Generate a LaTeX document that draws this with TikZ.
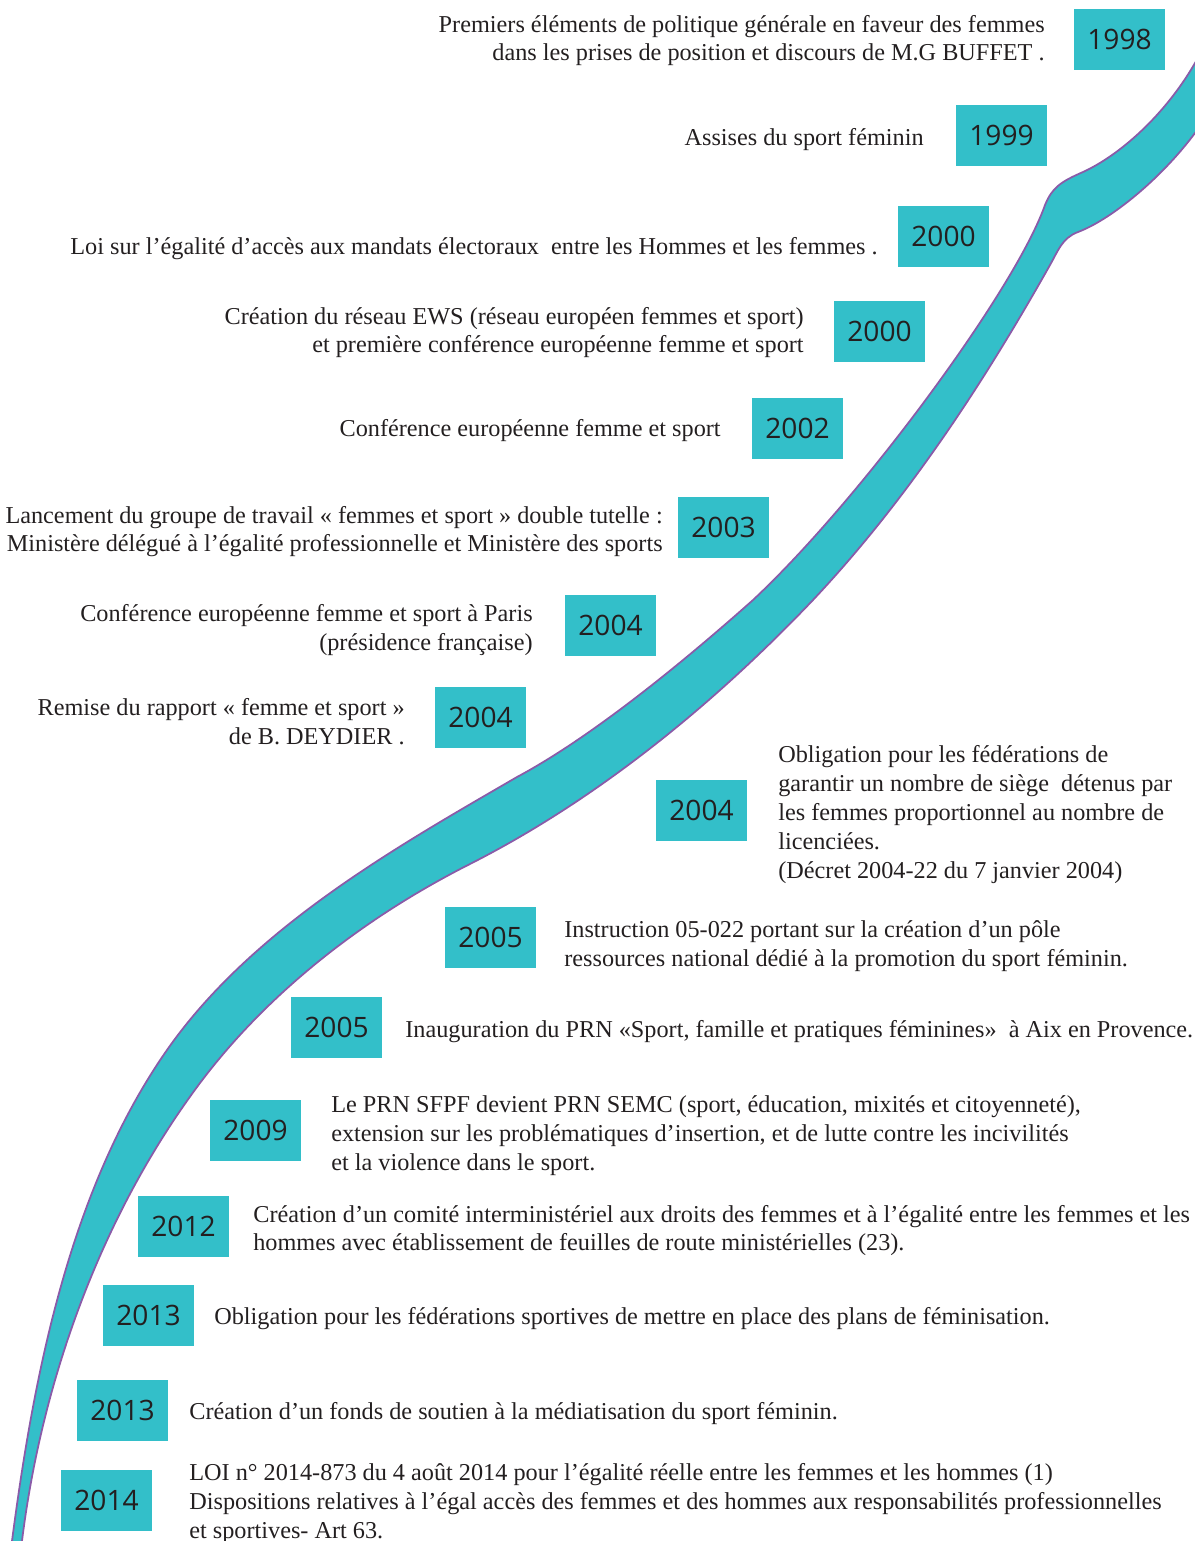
\documentclass[tikz,border=0pt]{standalone}
\usepackage{fontspec}
\setmainfont{Liberation Serif}
\newfontfamily\yearfont{Open Sans}
\definecolor{ribbonteal}{HTML}{33BFC9}
\definecolor{ribbonpurple}{HTML}{8A5BA8}
\definecolor{inkgray}{HTML}{231F20}
\tikzset{
  ribbon/.style={fill=ribbonteal, draw=ribbonpurple, line width=1pt},
  yearbox/.style={fill=ribbonteal, minimum width=1.82cm, minimum height=1.22cm, inner sep=0pt, text=inkgray, font=\yearfont\fontsize{16}{19}\selectfont},
  eventleft/.style={anchor=east, align=right, inner sep=0pt, text=inkgray, font=\fontsize{13.8}{16.4}\selectfont},
  eventright/.style={anchor=west, align=left, inner sep=0pt, text=inkgray, font=\fontsize{13.8}{16.4}\selectfont}
}

\begin{document}
\begin{tikzpicture}[x=0.02cm, y=-0.02cm]
  \useasboundingbox (0,0) rectangle (1195,1541);
  % draw the ribbon
  \draw[ribbon] (1212,35) -- (1195,63)
    .. controls (1165,115) and (1120,155) .. (1083,172)
    .. controls (1060,182) and (1052,188) .. (1045,205)
    .. controls (1015,290) and (860,500) .. (753,600)
    .. controls (680,665) and (590,738) .. (517,777)
    .. controls (400,845) and (253,927) .. (167,1050)
    .. controls (70,1189) and (34,1373) .. (12,1541)
    -- (8,1572) -- (18,1572) -- (22,1541)
    .. controls (42,1379) and (102,1214) .. (200,1083)
    .. controls (270,990) and (367,916) .. (470,864)
    .. controls (598,799) and (714,704) .. (813,600)
    .. controls (907,500) and (983,384) .. (1050,265)
    .. controls (1058,251) and (1062,238) .. (1078,232)
    .. controls (1110,220) and (1160,180) .. (1195,133)
    -- (1212,110) -- cycle;
  % draw the year boxes
  \node[yearbox] (year_1998) at (1119.5,39.5) {1998};
  \node[yearbox] (year_1999) at (1001.5,135.5) {1999};
  \node[yearbox] (year_2000_a) at (943.5,236.5) {2000};
  \node[yearbox] (year_2000_b) at (879.5,331.5) {2000};
  \node[yearbox] (year_2002) at (797.5,428.5) {2002};
  \node[yearbox] (year_2003) at (723.5,527.5) {2003};
  \node[yearbox] (year_2004_a) at (610.5,625.5) {2004};
  \node[yearbox] (year_2004_b) at (480.5,717.5) {2004};
  \node[yearbox] (year_2004_c) at (701.5,810.5) {2004};
  \node[yearbox] (year_2005_a) at (490.5,937.5) {2005};
  \node[yearbox] (year_2005_b) at (336.5,1027.5) {2005};
  \node[yearbox] (year_2009) at (255.5,1130.5) {2009};
  \node[yearbox] (year_2012) at (183.5,1226.5) {2012};
  \node[yearbox] (year_2013_a) at (148.5,1315.5) {2013};
  \node[yearbox] (year_2013_b) at (122.5,1410.5) {2013};
  \node[yearbox] (year_2014) at (106.5,1500.5) {2014};
  % texts on the left of the ribbon
  \node[eventleft] (text_1998) at (1045,40.5) {Premiers éléments de politique générale en faveur des femmes\\dans les prises de position et discours de M.G BUFFET .};
  \node[eventleft] (text_1999) at (924,140) {Assises du sport féminin};
  \node[eventleft] (text_2000_a) at (878,249) {Loi sur l’égalité d’accès aux mandats électoraux ~entre les Hommes et les femmes .};
  \node[eventleft] (text_2000_b) at (804,332.5) {Création du réseau EWS (réseau européen femmes et sport)\\et première conférence européenne femme et sport};
  \node[eventleft] (text_2002) at (721,431) {Conférence européenne femme et sport};
  \node[eventleft] (text_2003) at (663,531.5) {Lancement du groupe de travail «~femmes et sport~» double tutelle :\\Ministère délégué à l’égalité professionnelle et Ministère des sports};
  \node[eventleft] (text_2004_a) at (533,630) {Conférence européenne femme et sport à Paris\\(présidence française)};
  \node[eventleft] (text_2004_b) at (405,721.5) {Remise du rapport «~femme et sport~»\\de B. DEYDIER .};
  % texts on the right of the ribbon
  \node[eventright] (text_2004_c) at (778,814.5) {Obligation pour les fédérations de\\garantir un nombre de siège ~détenus par\\les femmes proportionnel au nombre de\\licenciées.\\(Décret 2004-22 du 7 janvier 2004)};
  \node[eventright] (text_2005_a) at (564,946) {Instruction 05-022 portant sur la création d’un pôle\\ressources national dédié à la promotion du sport féminin.};
  \node[eventright] (text_2005_b) at (405,1032) {Inauguration du PRN «Sport, famille et pratiques féminines» ~à Aix en Provence.};
  \node[eventright] (text_2009) at (331,1135.5) {Le PRN SFPF devient PRN SEMC (sport, éducation, mixités et citoyenneté),\\extension sur les problématiques d’insertion, et de lutte contre les incivilités\\et la violence dans le sport.};
  \node[eventright] (text_2012) at (253,1230.5) {Création d’un comité interministériel aux droits des femmes et à l’égalité entre les femmes et les\\hommes avec établissement de feuilles de route ministérielles (23).};
  \node[eventright] (text_2013_a) at (214,1319) {Obligation pour les fédérations sportives de mettre en place des plans de féminisation.};
  \node[eventright] (text_2013_b) at (189,1414) {Création d’un fonds de soutien à la médiatisation du sport féminin.};
  \node[eventright] (text_2014) at (189,1503.5) {LOI n° 2014-873 du 4 août 2014 pour l’égalité réelle entre les femmes et les hommes (1)\\Dispositions relatives à l’égal accès des femmes et des hommes aux responsabilités professionnelles\\et sportives- Art 63.};
\end{tikzpicture}
\end{document}
